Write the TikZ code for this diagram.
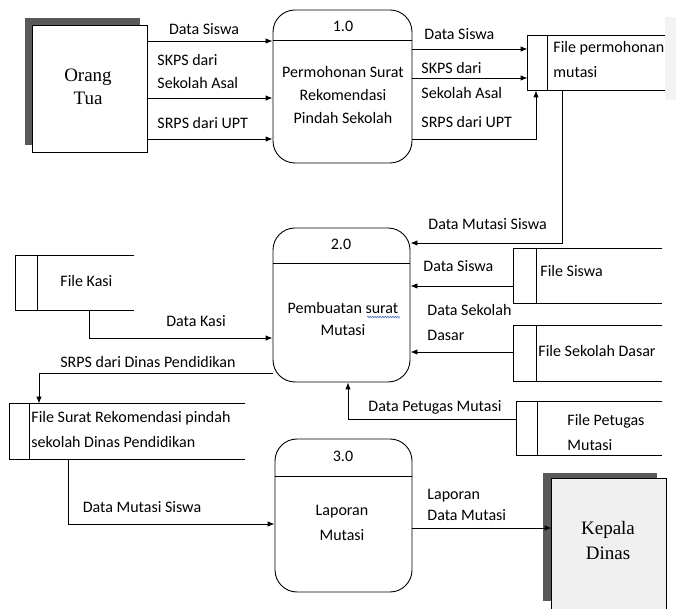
\documentclass[tikz,border=0pt]{standalone}
\usepackage{fontspec}
\setmainfont{Carlito}
\newfontfamily\serifent{Liberation Serif}
\usetikzlibrary{arrows.meta,decorations.pathmorphing}
\definecolor{shadowgray}{HTML}{595959}
\definecolor{kdfill}{HTML}{F0F0F0}
\definecolor{pale}{HTML}{F3F3F3}
\definecolor{spell}{HTML}{4472C4}
\begin{document}
\begin{tikzpicture}[x=1pt,y=-1pt, line width=0.9pt,
  arr/.style={-{Latex[length=7pt,width=5.5pt]}},
  lbl/.style={font=\fontsize{16}{23}\selectfont, inner sep=0pt, text height=10pt, text depth=0pt},
  mlbl/.style={font=\fontsize{16}{23}\selectfont, inner sep=0pt, align=left},
  mlblc/.style={font=\fontsize{16}{23}\selectfont, inner sep=0pt, align=center},
  etxt/.style={font=\serifent\fontsize{19}{23}\selectfont, inner sep=0pt, align=center},
  proc/.style={draw, rounded corners=22pt, inner sep=0pt},
  ent/.style={draw, fill=white, inner sep=0pt},
  store/.style={inner sep=0pt},
  shd/.style={fill=shadowgray}]
\useasboundingbox (0,0) rectangle (678,609);

% pale artefact behind first store
\fill[pale] (665,17) rectangle (676,100);

% ---- external entities
\fill[shd] (25,18) rectangle (140,145);
\node[ent, minimum width=115pt, minimum height=127pt] (ot) at (89.5,88.5) {};
\node[etxt] (otT) at (88,86.5) {Orang\\Tua};

\fill[shd] (543,473) rectangle (657,601);
\node[store, fill=kdfill, minimum width=114pt, minimum height=130pt] (kd) at (609,544) {};
\draw (kd.south west) -- (kd.north west) -- (kd.north east) -- (kd.south east);
\node[etxt, font=\serifent\fontsize{19}{25}\selectfont] (kdT) at (608,541) {Kepala\\Dinas};

% ---- processes
\node[proc, minimum width=139pt, minimum height=153pt] (p1) at (342.5,86.5) {};
\draw (p1.west |- 0,40) -- (p1.east |- 0,40);
\node[lbl] (p1n) at (343,27) {1.0};
\node[mlblc] (p1T) at (343,95) {Permohonan Surat\\Rekomendasi\\Pindah Sekolah};

\node[proc, minimum width=137pt, minimum height=154pt] (p2) at (341.5,305) {};
\draw (p2.west |- 0,263) -- (p2.east |- 0,263);
\node[lbl] (p2n) at (341,245) {2.0};
\node[mlblc, font=\fontsize{16}{22}\selectfont] (p2T) at (343,319) {Pembuatan surat\\Mutasi};
\draw[spell, line width=0.6pt, decorate, decoration={snake, amplitude=0.7pt, segment length=2.5pt}] (367,317) -- (400,317);

\node[proc, minimum width=137pt, minimum height=153pt] (p3) at (343.5,515.5) {};
\draw (p3.west |- 0,476) -- (p3.east |- 0,476);
\node[lbl] (p3n) at (343,457) {3.0};
\node[mlblc, font=\fontsize{16}{25}\selectfont] (p3T) at (342,522.5) {Laporan\\Mutasi};

% ---- data stores
\node[store, minimum width=137pt, minimum height=54pt] (sPerm) at (596.5,63) {};
\draw (sPerm.north east) -- (sPerm.north west) -- (sPerm.south west) -- (sPerm.south east);
\draw (sPerm.north -| 547,0) -- (sPerm.south -| 547,0);
\node[mlbl, anchor=west, font=\fontsize{16}{25}\selectfont] (sPermT) at (553,59.5) {File permohonan\\mutasi};

\node[store, minimum width=118pt, minimum height=54pt] (sKasi) at (75,283) {};
\draw (sKasi.north east) -- (sKasi.north west) -- (sKasi.south west) -- (sKasi.south east);
\draw (sKasi.north -| 37,0) -- (sKasi.south -| 37,0);
\node[lbl, anchor=west] (sKasiT) at (60,282) {File Kasi};

\node[store, minimum width=148pt, minimum height=54pt] (sSiswa) at (588,276) {};
\draw (sSiswa.north east) -- (sSiswa.north west) -- (sSiswa.south west) -- (sSiswa.south east);
\draw (sSiswa.north -| 536,0) -- (sSiswa.south -| 536,0);
\node[lbl, anchor=west] (sSiswaT) at (540,272) {File Siswa};

\node[store, minimum width=148pt, minimum height=55pt] (sSD) at (588,353.5) {};
\draw (sSD.north east) -- (sSD.north west) -- (sSD.south west) -- (sSD.south east);
\draw (sSD.north -| 536,0) -- (sSD.south -| 536,0);
\node[lbl, anchor=west] (sSDT) at (538,352) {File Sekolah Dasar};

\node[store, minimum width=145pt, minimum height=53pt] (sPet) at (589.5,428.5) {};
\draw (sPet.north east) -- (sPet.north west) -- (sPet.south west) -- (sPet.south east);
\draw (sPet.north -| 537,0) -- (sPet.south -| 537,0);
\node[mlbl, anchor=west, font=\fontsize{16}{25}\selectfont] (sPetT) at (567,432.5) {File Petugas\\Mutasi};

\node[store, minimum width=235pt, minimum height=55pt] (sSurat) at (127.5,431.5) {};
\draw (sSurat.north east) -- (sSurat.north west) -- (sSurat.south west) -- (sSurat.south east);
\draw (sSurat.north -| 29,0) -- (sSurat.south -| 29,0);
\node[mlbl, anchor=west, font=\fontsize{16}{25}\selectfont] (sSuratT) at (31,429.5) {File Surat Rekomendasi pindah\\sekolah Dinas Pendidikan};

% ---- flows
\draw[arr] (ot.east |- 0,41) -- (p1.west |- 0,41);
\draw[arr] (ot.east |- 0,98) -- (p1.west |- 0,98);
\draw[arr] (ot.east |- 0,139) -- (p1.west |- 0,139);
\draw[arr] (p1.east |- 0,49) -- (sPerm.west |- 0,49);
\draw[arr] (p1.east |- 0,78) -- (sPerm.west |- 0,78);
\draw[arr] (p1.east |- 0,139) -| (sPerm.south -| 536,0);
\draw[arr] (sPerm.south -| 562,0) |- (p2.east |- 0,243);
\draw[arr] (sSiswa.west |- 0,286) -- (p2.east |- 0,286);
\draw[arr] (sSD.west |- 0,352) -- (p2.east |- 0,352);
\draw[arr] (sKasi.south -| 89,0) |- (p2.west |- 0,338);
\draw[arr] (p2.west |- 0,373) -| (sSurat.north -| 39,0);
\draw[arr] (sPet.west |- 0,419) -| (p2.south -| 348,0);
\draw[arr] (sSurat.south -| 68,0) |- (p3.west |- 0,524);
\draw[arr] (p3.east |- 0,528) -- (kd.west |- 0,528);

% ---- flow labels
\node[lbl] (l1) at (204,30) {Data Siswa};
\node[mlbl, anchor=west] (l2) at (157,71.5) {SKPS dari\\Sekolah Asal};
\node[lbl, anchor=west] (l3) at (157,124) {SRPS dari UPT};
\node[lbl, anchor=west] (l4) at (424,35) {Data Siswa};
\node[mlbl, anchor=west, font=\fontsize{16}{25}\selectfont] (l5) at (421,80.5) {SKPS dari\\Sekolah Asal};
\node[lbl, anchor=west] (l6) at (421,123) {SRPS dari UPT};
\node[lbl, anchor=west] (l7) at (428,225) {Data Mutasi Siswa};
\node[lbl, anchor=west] (l8) at (423,267) {Data Siswa};
\node[mlbl, anchor=west, font=\fontsize{16}{25}\selectfont] (l9) at (427,322.5) {Data Sekolah\\Dasar};
\node[lbl] (l10) at (196,322) {Data Kasi};
\node[lbl] (l11) at (148,363) {SRPS dari Dinas Pendidikan};
\node[lbl] (l12) at (435,407) {Data Petugas Mutasi};
\node[lbl] (l13) at (142,508) {Data Mutasi Siswa};
\node[mlbl, anchor=west, font=\fontsize{16}{21}\selectfont] (l14) at (427,504.5) {Laporan\\Data Mutasi};
\end{tikzpicture}
\end{document}
